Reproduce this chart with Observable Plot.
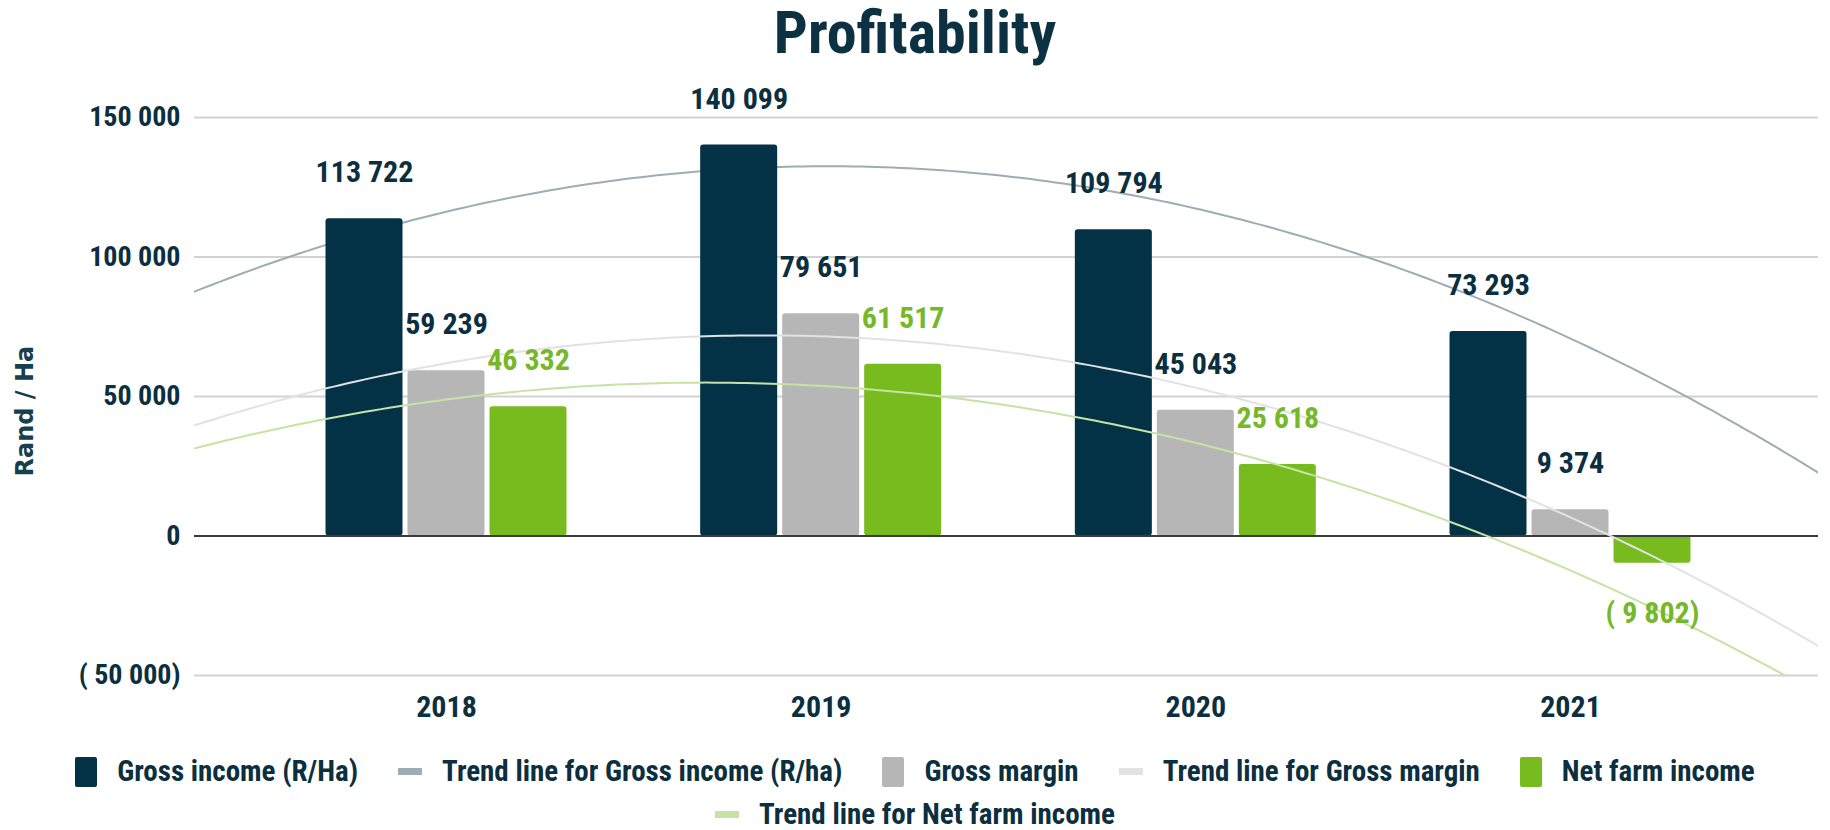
<!DOCTYPE html>
<html><head><meta charset="utf-8">
<script src="https://cdn.jsdelivr.net/npm/d3@7"></script>
<script src="https://cdn.jsdelivr.net/npm/@observablehq/plot@0.6"></script>
<style>
body{margin:0;background:#fff;width:1830px;height:830px;overflow:hidden;font-family:"Liberation Sans Narrow","Arial Narrow","Roboto Condensed",sans-serif;font-weight:bold;color:#0b2f3f}
#title{height:59px;padding-top:3px;line-height:59px;font-size:60px;text-align:center;color:#0b3142}
#chart{height:680px}
#legend{display:flex;flex-wrap:wrap;justify-content:center;column-gap:40px;padding-top:8px;font-size:29px;line-height:43px;color:#0b2f3f}
.item{display:flex;align-items:center}
.sw{margin-right:20px;display:inline-block}
</style></head><body>
<div id="title">Profitability</div>
<div id="chart"></div>
<div id="legend"></div>
<script>
// ---- data ----
const years = [2018, 2019, 2020, 2021];
const grossIncome = [113722, 140099, 109794, 73293];
const grossMargin = [59239, 79651, 45043, 9374];
const netFarmIncome = [46332, 61517, 25618, -9802];
const yTicks = [-50000, 0, 50000, 100000, 150000];
const seriesNames = ["Gross income (R/Ha)", "Gross margin", "Net farm income"];
const trendNames = ["Trend line for Gross income (R/ha)", "Trend line for Gross margin", "Trend line for Net farm income"];

// ---- styles ----
const barColors = ["#033246", "#b6b6b6", "#77bb1f"];
const trendColors = ["#9dadb5", "#e2e2e2", "#c6e2a4"];
const labelColors = ["#0b2f3f", "#0b2f3f", "#76b82a"];
const narrow = '"Liberation Sans Narrow","Arial Narrow","Roboto Condensed",sans-serif';

const fmt = v => {
  const s = d3.format(",")(Math.abs(v)).replace(/,/g, " ");
  return v < 0 ? "( " + s + ")" : s;
};

// quadratic least-squares trend (as spreadsheet polynomial trendline, order 2)
function quadFit(xs, ys) {
  const c = d3.mean(xs);
  const t = xs.map(x => x - c);
  const S = k => d3.sum(t, v => v ** k);
  const T = k => d3.sum(t, (v, i) => v ** k * ys[i]);
  const A = [[S(0), S(1), S(2)], [S(1), S(2), S(3)], [S(2), S(3), S(4)]];
  const b = [T(0), T(1), T(2)];
  for (let i = 0; i < 3; i++) {
    for (let j = i + 1; j < 3; j++) {
      const f = A[j][i] / A[i][i];
      for (let k = i; k < 3; k++) A[j][k] -= f * A[i][k];
      b[j] -= f * b[i];
    }
  }
  const p = [0, 0, 0];
  for (let i = 2; i >= 0; i--) {
    let s = b[i];
    for (let k = i + 1; k < 3; k++) s -= A[i][k] * p[k];
    p[i] = s / A[i][i];
  }
  return x => p[0] + p[1] * (x - c) + p[2] * (x - c) ** 2;
}

const W = 1830, H = 680, mL = 194, mR = 12, mT = 55, mB = 67;
const xDomain = [2017.3274, 2021.6619];
const pxPerYear = (W - mL - mR) / (xDomain[1] - xDomain[0]);
const barW = 77, barStep = 82;
const offs = [-barStep, 0, barStep].map(p => p / pxPerYear);
const hw = barW / 2 / pxPerYear;

const seriesValues = [grossIncome, grossMargin, netFarmIncome];
const bars = seriesValues.map((vals, s) => years.map((yr, i) => ({year: yr, s, v: vals[i]})));

const samples = d3.range(0, 201).map(i => xDomain[0] + (xDomain[1] - xDomain[0]) * i / 200);
const trends = seriesValues.map(vals => {
  const f = quadFit(years, vals);
  return samples.map(x => ({x, y: f(x)}));
});

const barMark = s => Plot.rectY(bars[s], {
  x1: d => d.year + offs[s] - hw, x2: d => d.year + offs[s] + hw,
  y1: 0, y2: "v", fill: barColors[s], rx: 3
});
const trendMark = s => Plot.line(trends[s], {x: "x", y: "y", stroke: trendColors[s], strokeWidth: 2, clip: true});
const labelMark = (s, pos) => Plot.text(bars[s].filter(d => pos ? d.v >= 0 : d.v < 0), {
  x: d => d.year + offs[s], y: "v", text: d => fmt(d.v),
  dy: pos ? -46 : 50, fill: labelColors[s],
  fontFamily: narrow, fontSize: 30, fontWeight: "bold"
});

const chart = Plot.plot({
  width: W, height: H,
  marginLeft: mL, marginRight: mR, marginTop: mT, marginBottom: mB,
  style: {fontFamily: narrow, fontSize: "30px", fontWeight: "bold", color: "#0b2f3f", background: "transparent", overflow: "visible"},
  x: {type: "linear", domain: xDomain},
  y: {domain: [-50000, 150000]},
  marks: [
    Plot.ruleY(yTicks.filter(t => t !== 0), {stroke: "#d2d2d2", strokeWidth: 2}),
    trendMark(0),
    barMark(0), barMark(1), barMark(2),
    Plot.ruleY([0], {stroke: "#3a3a3a", strokeWidth: 2}),
    trendMark(1), trendMark(2),
    labelMark(0, true), labelMark(1, true), labelMark(2, true), labelMark(2, false),
    Plot.axisY({ticks: yTicks, tickFormat: fmt, tickSize: 0, tickPadding: 14, label: null, fontSize: 28}),
    Plot.axisX({ticks: years, tickFormat: d => String(d), tickSize: 0, tickPadding: 20, label: null}),
    Plot.text(["Rand / Ha"], {text: d => d, frameAnchor: "left", rotate: -90, dx: -169, dy: 80,
      fontFamily: '"DejaVu Sans",sans-serif', fontSize: 24, fontWeight: "bold", fill: "#17404f"})
  ]
});
document.getElementById("chart").appendChild(chart);

// ---- legend ----
const legendItems = [
  {name: seriesNames[0], color: barColors[0], kind: "bar"},
  {name: trendNames[0], color: trendColors[0], kind: "line"},
  {name: seriesNames[1], color: barColors[1], kind: "bar"},
  {name: trendNames[1], color: trendColors[1], kind: "line"},
  {name: seriesNames[2], color: barColors[2], kind: "bar"},
  {name: trendNames[2], color: trendColors[2], kind: "line"}
];
const leg = document.getElementById("legend");
for (const it of legendItems) {
  const d = document.createElement("div");
  d.className = "item";
  const sw = document.createElement("span");
  sw.className = "sw";
  sw.style.background = it.color;
  if (it.kind === "bar") { sw.style.width = "22px"; sw.style.height = "30px"; sw.style.borderRadius = "2px"; }
  else { sw.style.width = "24px"; sw.style.height = "7px"; }
  const t = document.createElement("span");
  t.textContent = it.name;
  d.appendChild(sw); d.appendChild(t);
  leg.appendChild(d);
}
</script>
</body></html>
